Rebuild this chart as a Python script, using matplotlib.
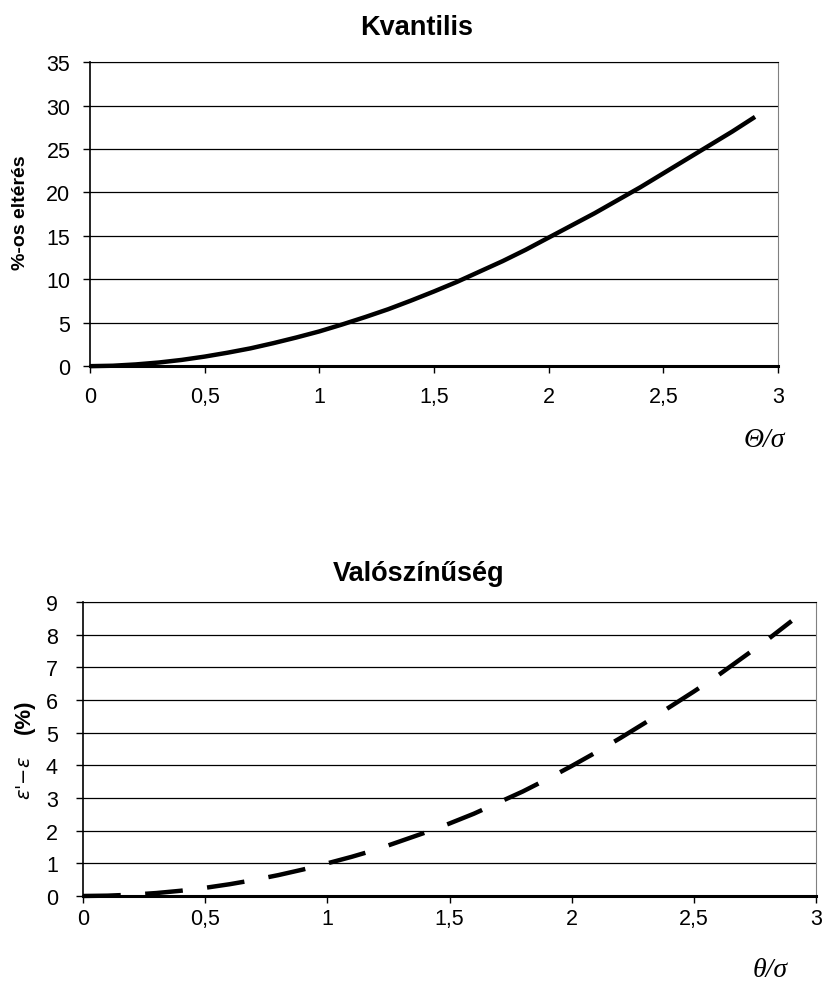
import matplotlib.pyplot as plt
from matplotlib.ticker import FuncFormatter

plt.rcParams['font.family'] = ['Liberation Sans', 'DejaVu Sans']

# data
x_vals = [0.0, 0.1, 0.2, 0.3, 0.4, 0.5, 0.6, 0.7, 0.8, 0.9,
          1.0, 1.1, 1.2, 1.3, 1.4, 1.5, 1.6, 1.7, 1.8, 1.9,
          2.0, 2.1, 2.2, 2.3, 2.4, 2.5, 2.6, 2.7, 2.8, 2.9]
kvantilis = [0, 0.05, 0.2, 0.42, 0.72, 1.1, 1.55, 2.05, 2.65, 3.3,
             4.0, 4.8, 5.65, 6.55, 7.55, 8.6, 9.7, 10.9, 12.1, 13.4,
             14.8, 16.2, 17.6, 19.1, 20.6, 22.2, 23.8, 25.4, 27.0, 28.7]
valoszinuseg = [0, 0.01, 0.04, 0.09, 0.16, 0.25, 0.36, 0.49, 0.64, 0.81,
                1.0, 1.2, 1.42, 1.68, 1.94, 2.22, 2.52, 2.86, 3.2, 3.58,
                3.98, 4.4, 4.84, 5.3, 5.78, 6.26, 6.76, 7.3, 7.84, 8.42]
x_ticks = [0, 0.5, 1, 1.5, 2, 2.5, 3]

comma = FuncFormatter(lambda v, p: ('%g' % v).replace('.', ','))

fig = plt.figure(figsize=(8.25, 9.87), dpi=100)
ax1 = fig.add_axes([0.109, 0.628, 0.834, 0.308])
ax2 = fig.add_axes([0.1006, 0.0912, 0.8885, 0.2978])


def style(ax, ymax, ystep, xpad, ypad):
    ax.set_xlim(0, 3)
    ax.set_ylim(0, ymax)
    ax.set_xticks(x_ticks)
    ax.set_yticks(range(0, ymax + 1, ystep))
    ax.xaxis.set_major_formatter(comma)
    ax.yaxis.grid(True, color='black', linewidth=0.9)
    ax.set_axisbelow(True)
    ax.spines['right'].set_color('#808080')
    ax.spines['top'].set_color('black')
    ax.spines['left'].set_linewidth(1.2)
    ax.spines['bottom'].set_linewidth(2.2)
    ax.tick_params(axis='x', direction='out', length=5, width=1, pad=xpad,
                   labelsize=15.5)
    ax.tick_params(axis='y', direction='out', length=5, width=1, pad=ypad,
                   labelsize=15.5)


style(ax1, 35, 5, 9, 9)
style(ax2, 9, 1, 4, 13)

ax1.plot(x_vals, kvantilis, color='black', linewidth=3.2,
         solid_capstyle='butt', clip_on=False)
ax2.plot(x_vals, valoszinuseg, color='black', linewidth=3.2,
         dashes=(8.5, 5.5), dash_capstyle='butt', clip_on=False)

fig.text(0.505, 0.972, 'Kvantilis', ha='center', va='center',
         fontsize=19.5, fontweight='bold')
fig.text(0.508, 0.418, 'Valószínűség', ha='center', va='center',
         fontsize=19.5, fontweight='bold')

fig.text(0.025, 0.785, '%-os eltérés', rotation=90, ha='center',
         va='center', fontsize=14, fontweight='bold')
fig.text(0.03, 0.212, "$\\varepsilon$'$-\\varepsilon$", rotation=90,
         ha='center', va='center', fontsize=14, family='DejaVu Serif')
fig.text(0.03, 0.274, '(%)', rotation=90, ha='center', va='center',
         fontsize=16, fontweight='bold')

fig.text(0.926, 0.554, 'Θ/σ', ha='center', va='center', fontsize=20,
         family='Liberation Serif', style='italic')
fig.text(0.933, 0.017, 'θ/σ', ha='center', va='center', fontsize=20,
         family='Liberation Serif', style='italic')

fig.savefig('out.png', dpi=100)
